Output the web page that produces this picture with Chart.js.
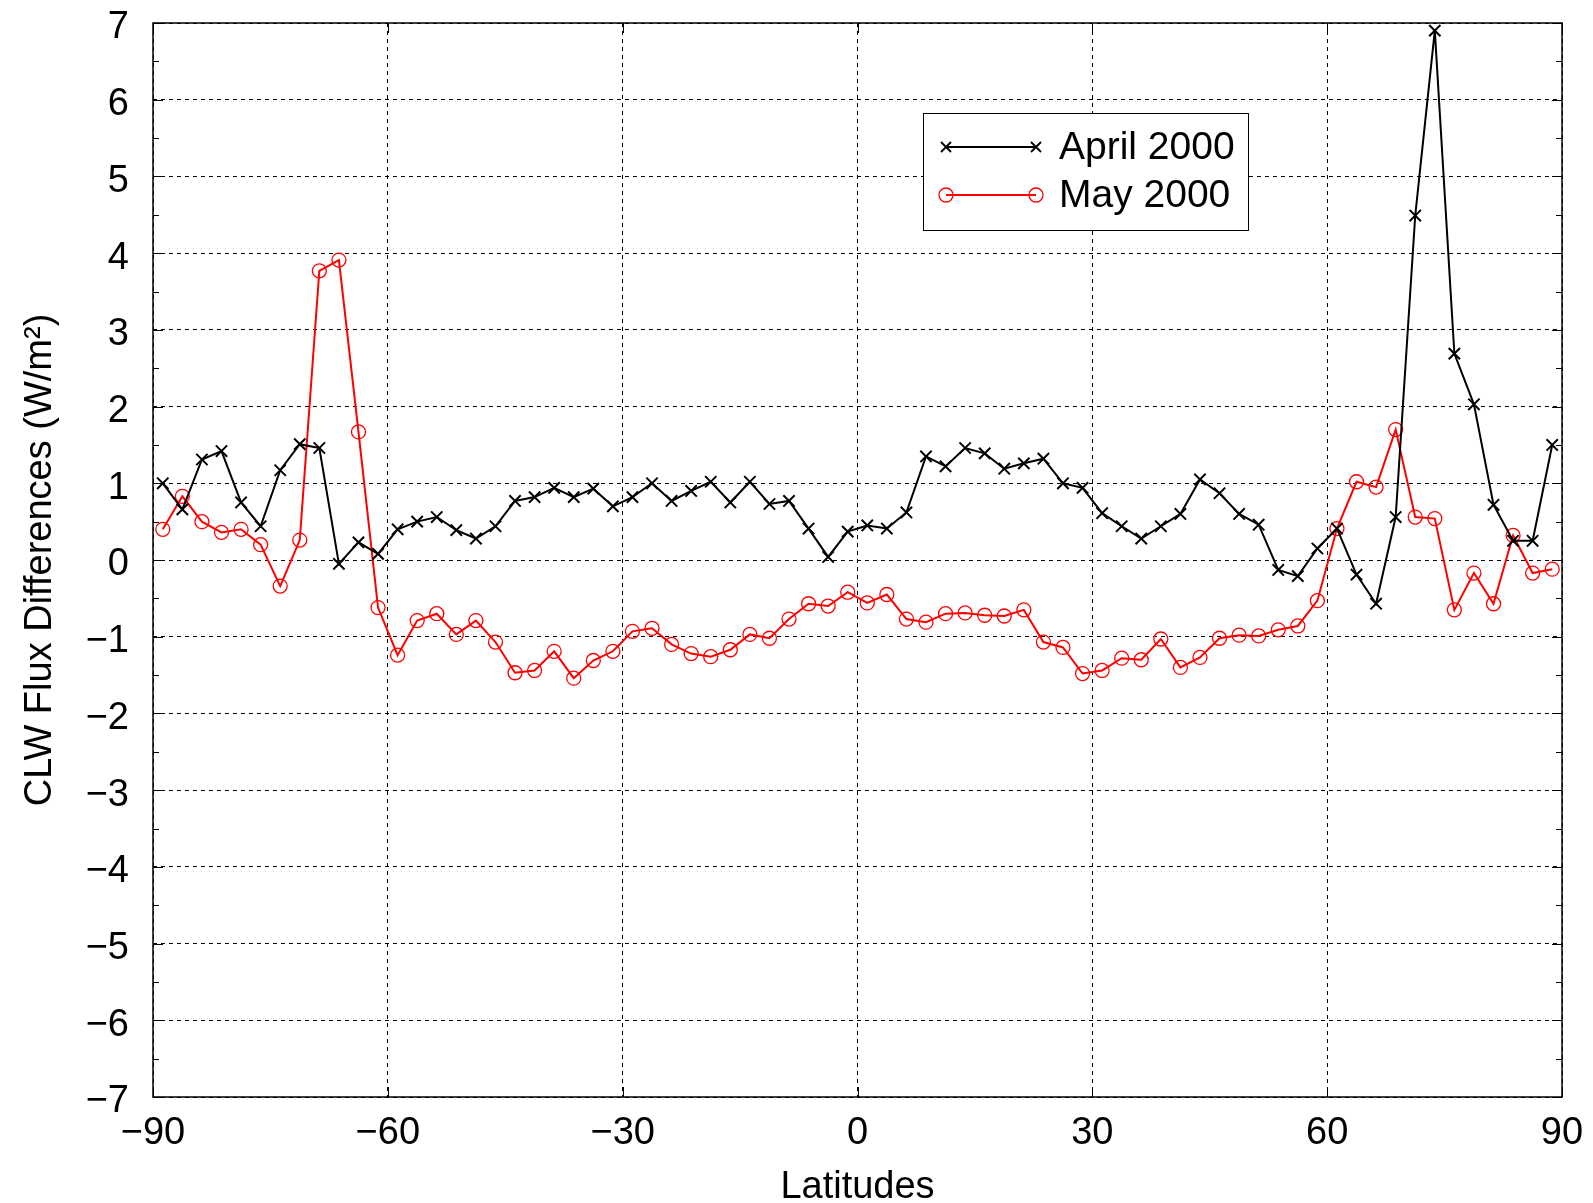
<!DOCTYPE html>
<html lang="en">
<head>
<meta charset="UTF-8">
<title>CLW Flux Differences</title>
<script src="https://cdn.jsdelivr.net/npm/chart.js"></script>
<style>
  html, body { margin: 0; padding: 0; background: #fff; }
  #wrap { width: 1593px; height: 1203px; }
</style>
</head>
<body>
<div id="wrap"><canvas id="fluxChart" width="1593" height="1203"></canvas></div>
<script>
// latitudes, 2.5 degree bands
const latitudes = [
  -88.75, -86.25, -83.75, -81.25, -78.75, -76.25, -73.75, -71.25, -68.75, -66.25,
  -63.75, -61.25, -58.75, -56.25, -53.75, -51.25, -48.75, -46.25, -43.75, -41.25,
  -38.75, -36.25, -33.75, -31.25, -28.75, -26.25, -23.75, -21.25, -18.75, -16.25,
  -13.75, -11.25, -8.75, -6.25, -3.75, -1.25, 1.25, 3.75, 6.25, 8.75,
  11.25, 13.75, 16.25, 18.75, 21.25, 23.75, 26.25, 28.75, 31.25, 33.75,
  36.25, 38.75, 41.25, 43.75, 46.25, 48.75, 51.25, 53.75, 56.25, 58.75,
  61.25, 63.75, 66.25, 68.75, 71.25, 73.75, 76.25, 78.75, 81.25, 83.75,
  86.25, 88.75
];

const april2000 = [
  1.0, 0.66, 1.31, 1.42, 0.75, 0.44, 1.17, 1.51, 1.46, -0.05,
  0.23, 0.08, 0.40, 0.50, 0.56, 0.39, 0.28, 0.44, 0.77, 0.82,
  0.94, 0.82, 0.93, 0.70, 0.82, 1.00, 0.77, 0.90, 1.02, 0.75,
  1.02, 0.73, 0.77, 0.41, 0.04, 0.37, 0.45, 0.41, 0.62, 1.35,
  1.22, 1.46, 1.39, 1.19, 1.26, 1.32, 1.00, 0.94, 0.61, 0.44,
  0.28, 0.44, 0.60, 1.05, 0.87, 0.60, 0.46, -0.13, -0.21, 0.15,
  0.41, -0.19, -0.57, 0.56, 4.49, 6.90, 2.69, 2.03, 0.72, 0.25,
  0.25, 1.50
];

const may2000 = [
  0.40, 0.83, 0.50, 0.36, 0.40, 0.20, -0.34, 0.26, 3.77, 3.91,
  1.67, -0.62, -1.24, -0.79, -0.70, -0.97, -0.79, -1.07, -1.47, -1.44,
  -1.19, -1.54, -1.31, -1.19, -0.93, -0.89, -1.10, -1.22, -1.26, -1.17,
  -0.97, -1.02, -0.77, -0.57, -0.60, -0.42, -0.56, -0.45, -0.77, -0.81,
  -0.70, -0.69, -0.72, -0.73, -0.65, -1.07, -1.14, -1.48, -1.44, -1.28,
  -1.30, -1.03, -1.40, -1.27, -1.02, -0.98, -0.99, -0.91, -0.86, -0.53,
  0.41, 1.02, 0.95, 1.70, 0.56, 0.54, -0.65, -0.17, -0.57, 0.32,
  -0.17, -0.12
];

const seriesNames = ['April 2000', 'May 2000'];
const seriesColors = ['#000000', '#ff0000'];
const FONT = '"Liberation Sans", Arial, Helvetica, sans-serif';
const FSIZE = 38;

function toPoints(values) {
  return latitudes.map((lat, i) => ({ x: lat, y: values[i] }));
}

function niceMinus(v) {
  return String(v).replace('-', '\u2212');
}

// frame, inward ticks and minor ticks
const framePlugin = {
  id: 'frame',
  afterDatasetsDraw(chart) {
    const { ctx, chartArea: a, scales: { x, y } } = chart;
    ctx.save();
    ctx.strokeStyle = '#000';
    ctx.lineWidth = 1;
    ctx.setLineDash([]);
    ctx.beginPath();
    for (let v = -7; v <= 7; v += 0.5) {
      const py = Math.round(y.getPixelForValue(v)) + 0.5;
      const len = Number.isInteger(v) ? 10 : 6;
      ctx.moveTo(a.left, py); ctx.lineTo(a.left + len, py);
      ctx.moveTo(a.right, py); ctx.lineTo(a.right - len, py);
    }
    for (let v = -90; v <= 90; v += 30) {
      const px = Math.round(x.getPixelForValue(v)) + 0.5;
      ctx.moveTo(px, a.bottom); ctx.lineTo(px, a.bottom - 10);
      ctx.moveTo(px, a.top); ctx.lineTo(px, a.top + 10);
    }
    ctx.stroke();
    ctx.lineWidth = 1.5;
    ctx.strokeRect(a.left, a.top, a.right - a.left, a.bottom - a.top);
    ctx.restore();
  }
};

// legend box with line + marker samples
const legendPlugin = {
  id: 'boxLegend',
  afterDraw(chart) {
    const ctx = chart.ctx;
    const box = { x: 923, y: 113, w: 325, h: 117 };
    ctx.save();
    ctx.fillStyle = '#fff';
    ctx.fillRect(box.x, box.y, box.w, box.h);
    ctx.strokeStyle = '#000';
    ctx.lineWidth = 1;
    ctx.strokeRect(box.x + 0.5, box.y + 0.5, box.w, box.h);
    const rows = [147, 195];
    rows.forEach((ry, i) => {
      const c = seriesColors[i];
      ctx.strokeStyle = c;
      ctx.lineWidth = 1.8;
      ctx.beginPath();
      ctx.moveTo(946, ry); ctx.lineTo(1036, ry);
      ctx.stroke();
      [946, 1036].forEach(px => {
        ctx.beginPath();
        if (i === 0) {
          const r = 5;
          ctx.moveTo(px - r, ry - r); ctx.lineTo(px + r, ry + r);
          ctx.moveTo(px - r, ry + r); ctx.lineTo(px + r, ry - r);
        } else {
          ctx.lineWidth = 1.3;
          ctx.arc(px, ry, 7, 0, Math.PI * 2);
        }
        ctx.stroke();
      });
      ctx.fillStyle = '#000';
      ctx.font = '39px ' + FONT;
      ctx.textBaseline = 'middle';
      ctx.textAlign = 'left';
      ctx.fillText(seriesNames[i], 1059, ry + 1);
    });
    ctx.restore();
  }
};

const ctx = document.getElementById('fluxChart').getContext('2d');
new Chart(ctx, {
  type: 'line',
  data: {
    datasets: [
      {
        label: seriesNames[0],
        data: toPoints(april2000),
        borderColor: seriesColors[0],
        backgroundColor: seriesColors[0],
        borderWidth: 2,
        pointStyle: 'crossRot',
        pointRadius: 8,
        pointBorderWidth: 2,
        tension: 0
      },
      {
        label: seriesNames[1],
        data: toPoints(may2000),
        borderColor: seriesColors[1],
        backgroundColor: 'rgba(0,0,0,0)',
        borderWidth: 2,
        pointStyle: 'circle',
        pointRadius: 7,
        pointBorderWidth: 1.3,
        tension: 0
      }
    ]
  },
  options: {
    responsive: false,
    animation: false,
    layout: { padding: { top: 23, right: 31, left: 0, bottom: 0 } },
    plugins: {
      legend: { display: false },
      tooltip: { enabled: false }
    },
    scales: {
      x: {
        type: 'linear',
        min: -90,
        max: 90,
        afterFit: s => { s.height = 106; s.paddingLeft = 0; s.paddingRight = 0; },
        ticks: {
          stepSize: 30,
          color: '#000',
          padding: 14,
          maxRotation: 0,
          font: { family: FONT, size: FSIZE },
          callback: v => niceMinus(v)
        },
        grid: { color: '#000', lineWidth: 1, drawTicks: false },
        border: { display: false, dash: [4, 4] },
        title: {
          display: true,
          text: 'Latitudes',
          color: '#000',
          padding: { top: 12, bottom: -7 },
          font: { family: FONT, size: FSIZE }
        }
      },
      y: {
        min: -7,
        max: 7,
        afterFit: s => { s.width = 153; s.paddingTop = 0; s.paddingBottom = 0; },
        ticks: {
          stepSize: 1,
          color: '#000',
          padding: 24,
          labelOffset: 5,
          font: { family: FONT, size: FSIZE },
          callback: v => niceMinus(v)
        },
        grid: { color: '#000', lineWidth: 1, drawTicks: false },
        border: { display: false, dash: [4, 4] },
        title: {
          display: true,
          text: 'CLW Flux Differences (W/m\u00b2)',
          color: '#000',
          padding: { top: 18, bottom: 0 },
          font: { family: FONT, size: FSIZE }
        }
      }
    }
  },
  plugins: [framePlugin, legendPlugin]
});
</script>
</body>
</html>
